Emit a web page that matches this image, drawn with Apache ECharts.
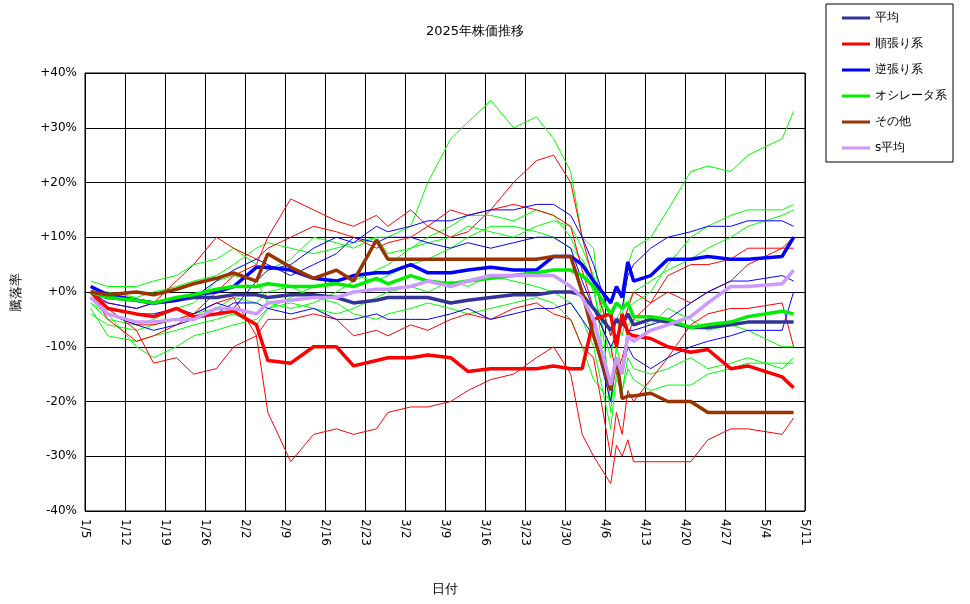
<!DOCTYPE html>
<html lang="ja">
<head>
<meta charset="UTF-8" />
<title>2025年株価推移</title>
<script src="https://cdn.jsdelivr.net/npm/echarts@6/dist/echarts.min.js"></script>
</head>
<body style="margin:0;background:#fff">
<div id="main" style="width:970px;height:604px"></div>
<script>
// trading days (M/D, 2025)
const dates = ["1/6","1/9","1/14","1/17","1/21","1/24","1/28","1/31","2/4","2/6","2/10","2/14","2/18","2/21","2/25","2/27","3/3","3/6","3/10","3/13","3/17","3/21","3/25","3/28","3/31","4/2","4/4","4/7","4/8","4/9","4/10","4/11","4/14","4/17","4/21","4/24","4/28","5/1","5/7","5/9"];

// thick summary lines (%)
const heikin = [0,-1,-1.5,-2,-1.5,-1,-1,-0.5,-0.5,-1,-0.5,-0.5,-1,-2,-1.5,-1,-1,-1,-2,-1.5,-1,-0.5,-0.5,0,0,-0.5,-3,-7,-5,-6,-4,-6,-5,-5.5,-6.5,-6.5,-6,-5.5,-5.5,-5.5];
const junbari = [0,-3,-4,-4.5,-3,-4.5,-4,-3.5,-6,-12.5,-13,-10,-10,-13.5,-12.5,-12,-12,-11.5,-12,-14.5,-14,-14,-14,-13.5,-14,-14,-5,-4,-10,-4,-7.5,-8,-8.5,-10,-11,-10.5,-14,-13.5,-15.5,-17.5];
const gyakubari = [1,-0.5,-1.5,-2,-1.5,-0.5,0,1,4.5,4.5,4,2.5,2,3,3.5,3.5,5,3.5,3.5,4,4.5,4,4,6.5,6.5,5,2,-2,1,-1,5.5,2,3,6,6,6.5,6,6,6.5,10];
const oscillator = [0,-1,-1.5,-2,-1,-0.5,0.5,1,1,1.5,1,1,1.5,1,2.5,1.5,3,2,1.5,2,2.5,3,3.5,4,4,3,1,-4,-2,-3,-2,-4.5,-4.5,-5,-6.5,-6,-5.5,-4.5,-3.5,-4];
const sonota = [0,-0.5,0,-0.5,0.5,1.5,2.5,3.5,2,7,4.5,2.5,4,2,9.5,6,6,6,6,6,6,6,6,6.5,6.5,0,-8,-18,-12,-19.5,-19,-19,-18.5,-20,-20,-22,-22,-22,-22,-22];
const sHeikin = [-1,-4,-5.5,-5.5,-5,-5,-3,-3,-4,-2,-1.5,-1,-1,0,0.5,0.5,1,2,1,2,3,3,3,3,1,-1,-5,-17,-12,-15,-8,-9,-7,-6,-4.5,-2,1,1,1.5,4];

// thin individual lines
const green1 = [0,0,-1,0,1,2,3,5,8,9,8,7,8,9,10,10,12,20,28,31,35,30,32,28,22,10,8,-20,-10,-5,5,8,10,15,22,23,22,25,28,33];
const green2 = [-2,-5,-6,-5,-3,-2,2,3,2,-2,-3,-2,0,2,4,5,8,10,12,14,14,13,15,14,10,5,0,-12,-5,-8,-3,-2,0,5,10,12,14,15,15,16];
const green3 = [-3,-8,-9,-8,-7,-6,-5,-4,-6,-3,-1,1,2,3,2,3,5,6,8,10,12,12,11,10,8,6,2,-22,-10,-14,-6,-5,-6,-3,-5,-7,-6,-7,-10,-10];
const green4 = [-2,-4,-10,-12,-10,-8,-7,-6,-5,-3,-2,-3,-4,-3,-1,0,1,0,2,1,3,2,1,0,-2,-5,-10,-25,-15,-18,-12,-14,-15,-14,-12,-14,-13,-12,-14,-12];
const green5 = [2,1,1,2,3,5,6,8,5,4,6,10,9,8,10,7,8,9,10,12,11,10,12,13,12,8,3,-8,-5,-3,-2,0,2,4,6,8,10,12,14,15];
const green6 = [-4,-6,-7,-6,-5,-4,-3,-1,-2,0,1,-1,-2,-4,-5,-4,-3,-2,-3,-4,-3,-2,-1,-2,-5,-10,-16,-20,-16,-18,-14,-16,-18,-17,-17,-15,-14,-13,-13,-13];
const red1 = [0,-5,-9,-8,-6,-4,-2,-1,-8,-22,-31,-26,-25,-26,-25,-22,-21,-21,-20,-18,-16,-15,-12,-10,-15,-26,-30,-35,-28,-30,-27,-31,-31,-31,-31,-27,-25,-25,-26,-23];
const red2 = [0,-4,-6,-6,-5,-4,0,3,5,10,17,15,13,12,14,12,15,12,10,11,15,20,24,25,20,10,2,-8,-5,-6,-3,0,-2,3,5,5,6,8,8,8];
const red3 = [1,-3,-7,-13,-12,-15,-14,-10,-8,-5,-5,-4,-5,-8,-7,-8,-6,-7,-5,-4,-5,-3,-2,-4,-5,-10,-12,-30,-22,-26,-18,-20,-16,-12,-6,-4,-3,-3,-2,-10];
const red4 = [-1,-2,-3,-2,2,5,10,8,6,8,10,12,11,10,8,9,10,12,15,14,15,16,15,14,12,4,-3,-10,-15,-12,-8,-5,-2,0,-2,0,2,5,8,10];
const blue1 = [0,-3,-4,-4,-3,-4,-2,-3,2,4,5,8,10,9,12,11,12,13,13,14,15,15,16,16,14,10,5,-5,-2,-3,3,5,8,10,11,12,12,13,13,12];
const blue2 = [-1,-4,-6,-7,-6,-5,-4,-2,-2,-3,-4,-3,-5,-5,-4,-5,-5,-5,-4,-3,-5,-4,-3,-3,-2,-5,-8,-20,-12,-15,-10,-12,-14,-12,-10,-9,-8,-7,-7,0];
const blue3 = [0,-2,-3,-2,-1,-1,2,4,6,5,3,5,7,10,9,10,10,9,8,9,8,9,10,10,8,2,-3,-10,-8,-6,-7,-7,-6,-5,-2,0,2,2,3,2];

const yTicks = [-40,-30,-20,-10,0,10,20,30,40];

const DAY = 86400000;
const start = new Date(2025, 0, 5).getTime();
function dayOf(md) {
  const [m, d] = md.split("/").map(Number);
  return Math.round((new Date(2025, m - 1, d).getTime() - start) / DAY);
}
function label(v) {
  const dt = new Date(start + v * DAY);
  return (dt.getMonth() + 1) + "/" + dt.getDate();
}
const xs = dates.map(dayOf);
const pts = (arr) => arr.map((v, i) => [xs[i], v]);

const thin = [
  [green1, "#00ff00"], [green2, "#00ff00"], [green3, "#00ff00"], [green4, "#00ff00"],
  [green5, "#00ff00"], [green6, "#00ff00"],
  [red1, "#ff0000"], [red2, "#ff0000"], [red3, "#ff0000"], [red4, "#ff0000"],
  [blue1, "#0000ff"], [blue2, "#0000ff"], [blue3, "#0000ff"]
];
const thick = [
  ["平均", heikin, "#333399"],
  ["順張り系", junbari, "#ff0000"],
  ["逆張り系", gyakubari, "#0000ff"],
  ["オシレータ系", oscillator, "#00ee00"],
  ["その他", sonota, "#993300"],
  ["s平均", sHeikin, "#cc99ff"]
];

const series = [];
thin.forEach(([arr, c], i) => series.push({
  name: "thin" + i, type: "line", data: pts(arr), showSymbol: false, silent: true,
  lineStyle: { color: c, width: 1 }, itemStyle: { color: c }
}));
thick.forEach(([n, arr, c]) => series.push({
  name: n, type: "line", data: pts(arr), showSymbol: false,
  lineStyle: { color: c, width: 3.5 }, itemStyle: { color: c }
}));

const font = "DejaVu Sans";
const chart = echarts.init(document.getElementById("main"));
chart.setOption({
  animation: false,
  textStyle: { fontFamily: font },
  title: { text: "2025年株価推移", left: 470, top: 20, textAlign: "center",
    textStyle: { fontSize: 13, fontWeight: "normal", color: "#000", fontFamily: font } },
  legend: {
    data: thick.map(t => t[0]), orient: "vertical", left: 826, top: 4,
    padding: [8, 6, 8, 16], itemGap: 14, itemWidth: 28, itemHeight: 3,
    icon: "rect", borderColor: "#000", borderWidth: 1,
    textStyle: { fontSize: 12, color: "#000", fontFamily: font }
  },
  grid: { left: 85, right: 165, top: 73, bottom: 93, show: true, borderColor: "#000", borderWidth: 1 },
  xAxis: {
    type: "value", min: 0, max: 126, interval: 7,
    name: "日付", nameLocation: "middle", nameGap: 72,
    nameTextStyle: { fontSize: 13, color: "#000" },
    axisLine: { lineStyle: { color: "#000" } },
    axisTick: { show: false },
    splitLine: { lineStyle: { color: "#000", width: 1 } },
    axisLabel: { formatter: label, rotate: -90, color: "#000", fontSize: 12, margin: 8 }
  },
  yAxis: {
    type: "value", min: yTicks[0], max: yTicks[yTicks.length - 1], interval: 10,
    name: "騰落率", nameLocation: "middle", nameGap: 62, nameRotate: 90,
    nameTextStyle: { fontSize: 13, color: "#000" },
    axisLine: { lineStyle: { color: "#000" } },
    axisTick: { show: false },
    splitLine: { lineStyle: { color: "#000", width: 1 } },
    axisLabel: { formatter: v => (v >= 0 ? "+" : "") + v + "%", color: "#000", fontSize: 12 }
  },
  series: series
});
</script>
</body>
</html>
